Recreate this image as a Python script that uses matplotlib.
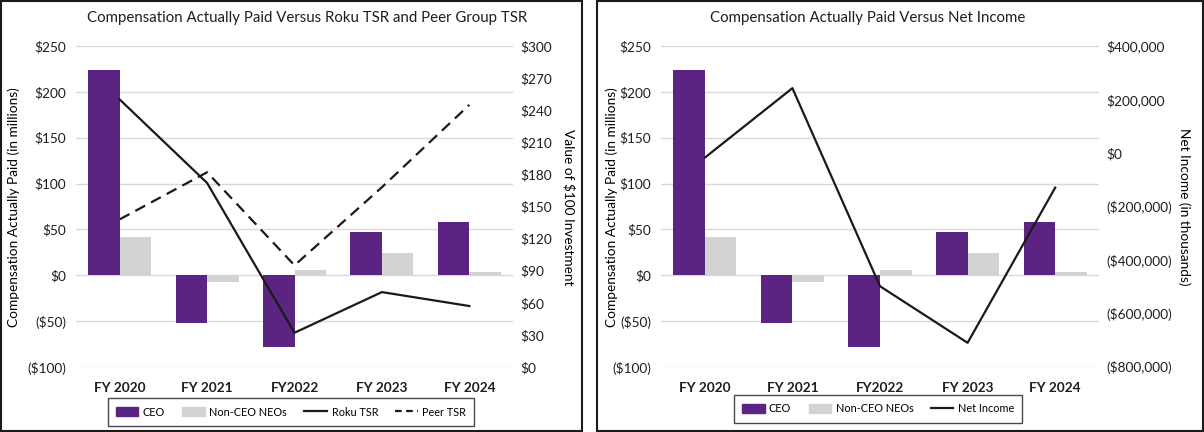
import numpy as np
import matplotlib.pyplot as plt
from matplotlib.patches import Rectangle
from matplotlib.lines import Line2D
from matplotlib.ticker import FuncFormatter

plt.rcParams['font.family'] = ['Lato', 'DejaVu Sans']

years = ["FY 2020", "FY 2021", "FY2022", "FY 2023", "FY 2024"]
ceo_cap = [223.5, -52, -78, 47, 58]          # $ millions
neo_cap = [41.5, -7.3, 5.8, 24.7, 3.3]       # $ millions
roku_tsr = [250, 172, 32, 70, 57]
peer_tsr = [138, 182, 95, 168, 245]
net_income = [-17507, 242385, -498006, -709561, -129386]  # $ thousands

purple = "#5C2482"
grey = "#D3D3D3"
ink = "#1a1a1a"
W, H = 1204, 432


def money(v, pos=None):
    if v < 0:
        return "(${:,.0f})".format(-v)
    return "${:,.0f}".format(v)


def axes_px(x0, x1, y0, y1):
    # pixel box (from top-left) -> figure fraction
    return [x0 / W, 1 - y1 / H, (x1 - x0) / W, (y1 - y0) / H]


def bar_panel(fig, box, label_x):
    ax = fig.add_axes(box)
    x = np.arange(len(years))
    bw = 0.36
    ax.bar(x - bw / 2, ceo_cap, bw, color=purple, zorder=2)
    ax.bar(x + bw / 2, neo_cap, bw, color=grey, zorder=2)
    ax.set_xlim(-0.5, len(years) - 0.5)
    ax.set_ylim(-100, 250)
    ax.set_yticks(np.arange(-100, 251, 50))
    ax.yaxis.set_major_formatter(FuncFormatter(money))
    ax.set_xticks(x)
    ax.set_xticklabels(years, fontweight='bold', fontsize=7)
    ax.yaxis.grid(True, color="#D9D9D9", lw=1, zorder=0)
    ax.set_axisbelow(True)
    for s in ax.spines.values():
        s.set_visible(False)
    ax.tick_params(length=0, labelsize=9.8, colors="#1e1e1e")
    ax.tick_params(axis='x', pad=11)
    ax.tick_params(axis='y', pad=7)
    ax.set_ylabel("Compensation Actually Paid (in millions)", fontsize=9.8, va='center')
    ax.yaxis.set_label_coords(label_x / W, 1 - 207 / H, transform=fig.transFigure)
    return ax, x


def side_axis(ax, lo, hi, step, label, label_x):
    axb = ax.twinx()
    axb.set_ylim(lo, hi)
    axb.set_yticks(np.arange(lo, hi + 1, step))
    axb.yaxis.set_major_formatter(FuncFormatter(money))
    for s in axb.spines.values():
        s.set_visible(False)
    axb.tick_params(length=0, labelsize=9.8, colors="#1e1e1e", pad=5)
    axb.set_ylabel(label, fontsize=9.8, rotation=270, va='center')
    axb.yaxis.set_label_coords(label_x / W, 1 - 207 / H, transform=fig.transFigure)
    return axb


def add_legend(handles, labels, cx, cy):
    leg = fig.legend(handles, labels, ncol=len(labels), loc='center',
                     bbox_to_anchor=(cx / W, 1 - cy / H), fontsize=7.8,
                     frameon=True, fancybox=False, edgecolor=ink, handlelength=2.1,
                     handleheight=0.85, handletextpad=0.4, columnspacing=1.6,
                     borderpad=0.75, borderaxespad=0)
    leg.get_frame().set_linewidth(1.0)
    return leg


fig = plt.figure(figsize=(W / 100, H / 100), dpi=100)

# frames around the two panels
fig.patches.append(Rectangle((1 / W, 1.5 / H), 581 / W, 1 - 2.5 / H, transform=fig.transFigure,
                             fill=False, ec=ink, lw=1.5))
fig.patches.append(Rectangle((597 / W, 1.5 / H), 605.5 / W, 1 - 2.5 / H, transform=fig.transFigure,
                             fill=False, ec=ink, lw=1.5))

# ---- left panel: TSR
ax1, x = bar_panel(fig, axes_px(76, 513, 46, 367), 14)
ax1b = side_axis(ax1, 0, 300, 30, "Value of $100 Investment", 569)
ax1b.plot(x, roku_tsr, color=ink, lw=1.6)
ax1b.plot(x, peer_tsr, color=ink, lw=1.6, ls=(0, (5, 3)))
fig.text(307 / W, 1 - 18 / H, "Compensation Actually Paid Versus Roku TSR and Peer Group TSR",
         ha='center', va='center', fontsize=10.8, color="#1e1e1e")

h1 = [Rectangle((0, 0), 1, 1, color=purple), Rectangle((0, 0), 1, 1, color=grey),
      Line2D([], [], color=ink, lw=1.6), Line2D([], [], color=ink, lw=1.6, ls=(0, (3, 2)))]
add_legend(h1, ["CEO", "Non-CEO NEOs", "Roku TSR", "Peer TSR"], 291, 412)

# ---- right panel: net income
ax2, x = bar_panel(fig, axes_px(661, 1099, 46, 367), 612)
ax2b = side_axis(ax2, -800000, 400000, 200000, "Net Income (in thousands)", 1184)
ax2b.plot(x, net_income, color=ink, lw=1.6)
fig.text(868 / W, 1 - 18 / H, "Compensation Actually Paid Versus Net Income",
         ha='center', va='center', fontsize=10.8, color="#1e1e1e")

h2 = [Rectangle((0, 0), 1, 1, color=purple), Rectangle((0, 0), 1, 1, color=grey),
      Line2D([], [], color=ink, lw=1.6)]
add_legend(h2, ["CEO", "Non-CEO NEOs", "Net Income"], 878, 409)

fig.savefig("out.png", dpi=100)
